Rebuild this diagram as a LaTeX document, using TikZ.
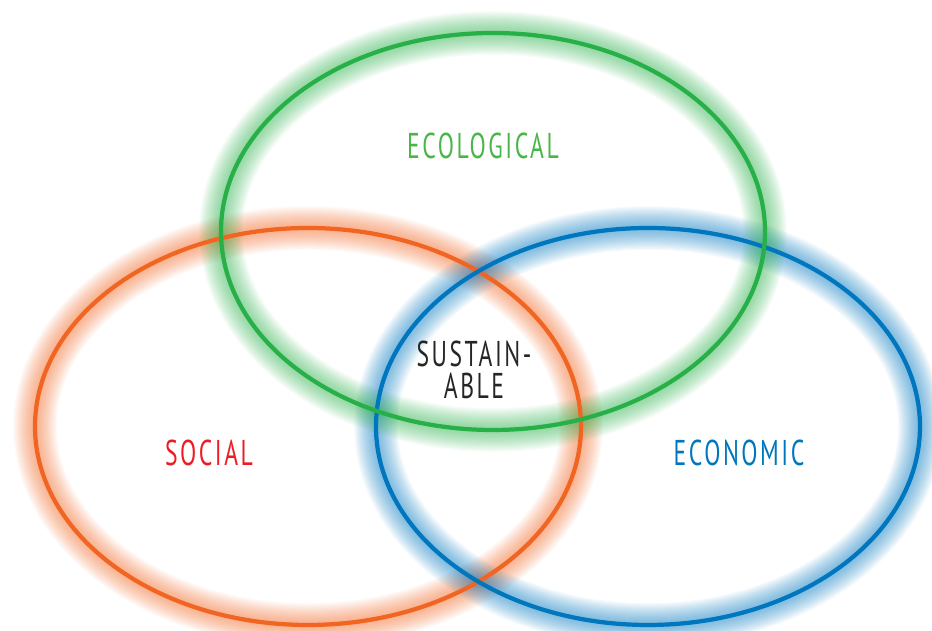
\documentclass[tikz,border=0pt]{standalone}
\usepackage{fontspec}
\newfontfamily\labelfont[FakeStretch=0.66,LetterSpace=7]{PT Sans}

\definecolor{ecogreen}{RGB}{40,176,72}
\definecolor{socorange}{RGB}{241,101,34}
\definecolor{econblue}{RGB}{0,118,190}
\definecolor{socred}{RGB}{237,28,36}
\definecolor{labelgreen}{RGB}{74,182,72}

\tikzset{
	glow/.style = {line width = #1, opacity = 0.035},
	ring/.style = {line width = 1.2pt},
	label/.style = {font = \labelfont\fontsize{10.2}{9.2}\selectfont, inner sep = 0pt}
}

\newcommand{\glowring}[3]{%
	\foreach \k in {1, ..., 20}
		\draw [#1, glow = \k * 0.62pt] #2 ellipse [x radius = #3, y radius = 198.5];
}

\begin{document}
\begin{tikzpicture}[x = 0.01cm, y = -0.01cm]

	\useasboundingbox (0, 0) rectangle (932, 631);

	% Glow around the rings

	\glowring{socorange}{(308, 426.5)}{273}
	\glowring{econblue}{(648, 426.5)}{272}
	\glowring{ecogreen}{(493, 231.5)}{272}

	% Three rings

	\draw [ring, socorange] (308, 426.5) ellipse [x radius = 273, y radius = 198.5];
	\draw [ring, econblue] (648, 426.5) ellipse [x radius = 272, y radius = 198.5];
	\draw [ring, ecogreen] (493, 231.5) ellipse [x radius = 272, y radius = 198.5];

	% Labels

	\node [label, labelgreen] (ecological) at (483, 146) {ECOLOGICAL};
	\node [label, socred] (social) at (209, 453) {SOCIAL};
	\node [label, econblue] (economic) at (739, 453) {ECONOMIC};
	\node [label, black!85, align = center] (sustainable) at (474, 370) {SUSTAIN-\\ABLE};

\end{tikzpicture}
\end{document}
